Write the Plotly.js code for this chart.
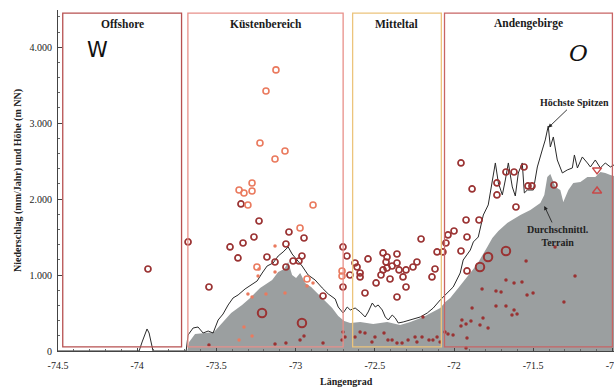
<!DOCTYPE html>
<html>
<head>
<meta charset="utf-8">
<script src="https://cdn.plot.ly/plotly-3.0.1.min.js"></script>
<style>html,body{margin:0;padding:0;background:#fff;}#chart{width:614px;height:388px;}</style>
</head>
<body>
<div id="chart"></div>
<script>
// ---- Data ----
const peakLon = [-74.5,-73.988,-73.969,-73.950,-73.938,-73.925,-73.913,-73.900,-73.691,-73.679,-73.647,-73.616,-73.584,-73.552,-73.521,-73.489,-73.458,-73.426,-73.395,-73.363,-73.319,-73.274,-73.243,-73.211,-73.180,-73.142,-73.110,-73.079,-73.047,-73.022,-72.990,-72.959,-72.921,-72.877,-72.832,-72.794,-72.750,-72.731,-72.700,-72.674,-72.655,-72.624,-72.592,-72.561,-72.542,-72.516,-72.497,-72.479,-72.453,-72.434,-72.415,-72.390,-72.371,-72.352,-72.321,-72.276,-72.213,-72.169,-72.131,-72.087,-72.043,-72.005,-71.961,-71.942,-71.897,-71.878,-71.847,-71.815,-71.784,-71.758,-71.739,-71.720,-71.695,-71.676,-71.657,-71.632,-71.613,-71.594,-71.569,-71.556,-71.537,-71.499,-71.474,-71.443,-71.424,-71.405,-71.392,-71.373,-71.348,-71.316,-71.285,-71.253,-71.240,-71.221,-71.190,-71.158,-71.139,-71.108,-71.076,-71.045,-71.013,-70.99];
const peakElev = [0,0,119,237,290,237,119,0,0,211,303,316,237,263,237,408,487,606,698,738,817,882,922,1027,1119,1159,1251,1304,1370,1277,1198,1119,1001,935,830,751,685,579,500,579,540,566,514,448,514,632,579,606,540,448,408,474,435,369,382,408,448,500,566,672,764,843,1027,1198,1330,1436,1501,1791,1923,2252,2476,2213,2055,2252,2476,2160,2041,2344,2476,2081,2120,2120,2423,2647,2779,2963,2687,2818,2515,2344,2384,2410,2581,2410,2555,2476,2423,2515,2410,2476,2423,2450];

const meanLon = [-74.5,-73.685,-73.672,-73.635,-73.571,-73.515,-73.464,-73.407,-73.338,-73.287,-73.224,-73.186,-73.148,-73.110,-73.072,-73.047,-73.022,-72.997,-72.971,-72.940,-72.902,-72.858,-72.813,-72.769,-72.731,-72.693,-72.655,-72.592,-72.510,-72.422,-72.340,-72.276,-72.194,-72.131,-72.087,-72.055,-72.024,-71.973,-71.916,-71.853,-71.790,-71.758,-71.720,-71.664,-71.581,-71.518,-71.455,-71.430,-71.411,-71.392,-71.360,-71.329,-71.310,-71.278,-71.247,-71.202,-71.158,-71.108,-71.076,-71.045,-71.013,-70.99];
const meanElev = [0,0,119,224,237,250,369,500,606,698,830,882,935,1040,1080,1172,1001,961,1027,896,843,751,659,566,461,395,369,382,356,382,342,382,448,514,566,645,698,830,975,1146,1370,1488,1580,1686,1791,1857,1949,2055,2292,2331,2160,2120,1962,2120,2213,2226,2292,2292,2357,2344,2318,2305];

// Station precipitation, dark red open circles
const darkLon = [-73.932,-73.679,-73.345,-73.231,-73.414,-73.332,-73.263,-73.042,-72.947,-73.061,-73.364,-73.181,-73.130,-73.061,-73.016,-72.979,-72.960,-73.547,-72.701,-72.676,-72.701,-72.827,-72.657,-72.625,-72.612,-72.593,-72.593,-72.543,-72.562,-72.492,-72.448,-72.423,-72.429,-72.448,-72.423,-72.391,-72.360,-72.360,-72.347,-72.303,-72.322,-72.404,-72.461,-72.360,-72.303,-72.259,-72.234,-72.208,-72.120,-72.139,-72.107,-72.070,-72.051,-72.038,-72.000,-71.956,-71.886,-71.672,-71.621,-71.558,-71.729,-71.729,-71.533,-71.508,-71.369,-71.609,-71.924,-71.842,-71.918,-71.956,-71.918];
const darkPrec = [1080,1436,1936,1712,1370,1422,1501,1567,1488,1409,1225,1238,1172,1106,1185,1185,1251,843,1370,1251,843,724,1001,1159,1106,1027,975,1212,764,896,1291,1238,1172,1067,1093,1119,1277,1159,1067,1067,975,948,1001,711,843,1106,1172,1475,1080,975,1304,1304,1422,1528,1580,2476,2134,2357,2357,2423,2213,2055,2173,2173,2186,1896,1725,1725,1501,1317,1054];
// larger dark red circles
const bigLon = [-73.212,-72.960,-71.785,-71.672,-71.836];
const bigPrec = [500,369,1238,1317,1106];
// salmon open circles
const salmonLon = [-73.124,-73.187,-73.225,-73.067,-73.130,-73.275,-73.357,-73.326,-73.275,-73.301,-72.890,-72.972,-73.244,-72.928,-72.707,-72.707];
const salmonPrec = [3701,3424,2739,2634,2529,2213,2120,2081,2107,1923,1923,1620,1106,948,1054,988];
// small salmon dots
const sDotLon = [-73.130,-73.231,-73.237,-73.130,-72.890,-72.928,-73.301,-73.275,-73.187,-73.067,-73.326,-73.275,-73.357];
const sDotPrec = [1383,1080,988,1040,896,856,751,711,751,764,316,198,145];
// small dark dots
const dDotLon = [-72.947,-72.972,-72.827,-72.707,-73.547,-73.130,-73.061,-72.701,-72.688,-72.625,-72.593,-72.562,-72.518,-72.499,-72.442,-72.417,-72.391,-72.360,-72.328,-72.290,-72.246,-72.234,-72.202,-72.196,-72.158,-72.133,-72.107,-72.088,-71.362,-71.545,-71.236,-71.672,-71.621,-71.571,-71.823,-71.735,-71.703,-71.539,-71.501,-71.306,-71.886,-71.735,-71.672,-71.621,-71.634,-71.602,-71.817,-71.950,-71.893,-71.924,-71.956,-71.836,-71.785,-72.057,-72.038,-72.006,-71.918,-71.924];
const dDotPrec = [198,145,105,145,79,92,105,250,184,184,250,237,119,184,237,145,145,105,105,145,184,119,184,448,145,145,184,119,1370,1185,988,935,896,909,817,790,777,738,764,645,566,593,593,540,474,487,435,408,395,356,329,342,303,250,224,211,171,40];
// triangles
const triDownLon = [-71.097], triDownPrec = [2384];
const triUpLon = [-71.097], triUpPrec = [2107];

// regions
const regionNames = ['Offshore','Küstenbereich','Mitteltal','Andengebirge'];
const regionStart = [-74.47,-73.68,-72.64,-72.06];
const regionEnd = [-73.72,-72.70,-72.08,-71.0];
const regionColors = ['#b75050','#e8908a','#ecc47c','#c86464'];

const xTicks = [-74.5,-74,-73.5,-73,-72.5,-72,-71.5,-71];
const xTickText = ['-74.5','-74','-73.5','-73','-72.5','-72','-71.5','-71'];
const yTicks = [0,1000,2000,3000,4000];
const yTickText = ['0','1.000','2.000','3.000','4.000'];

// ---- Chart ----
const serif = 'Liberation Serif, DejaVu Serif, serif';
const dark = '#9a3232';
const salmon = '#ea7a5e';

const traces = [
  {x: meanLon, y: meanElev, type:'scatter', mode:'lines', fill:'tozeroy', fillcolor:'#9b9fa0', line:{width:0, color:'#9b9fa0'}, hoverinfo:'skip'},
  {x: peakLon, y: peakElev, type:'scatter', mode:'lines', line:{width:1, color:'#2a2a2a'}},
  {x: dDotLon, y: dDotPrec, type:'scatter', mode:'markers', marker:{symbol:'circle', size:3.5, color:dark}},
  {x: sDotLon, y: sDotPrec, type:'scatter', mode:'markers', marker:{symbol:'circle', size:3.5, color:salmon}},
  {x: darkLon, y: darkPrec, type:'scatter', mode:'markers', marker:{symbol:'circle-open', size:6, color:dark, line:{width:1.7, color:dark}}},
  {x: bigLon, y: bigPrec, type:'scatter', mode:'markers', marker:{symbol:'circle-open', size:8.5, color:dark, line:{width:2, color:dark}}},
  {x: salmonLon, y: salmonPrec, type:'scatter', mode:'markers', marker:{symbol:'circle-open', size:6, color:salmon, line:{width:1.6, color:salmon}}},
  {x: triDownLon, y: triDownPrec, type:'scatter', mode:'markers', marker:{symbol:'triangle-down-open', size:8, color:'#c84848', line:{width:1.4, color:'#c84848'}}},
  {x: triUpLon, y: triUpPrec, type:'scatter', mode:'markers', marker:{symbol:'triangle-up-open', size:8, color:'#c84848', line:{width:1.4, color:'#c84848'}}}
];

const shapes = regionNames.map((n,i)=>({
  type:'rect', xref:'x', yref:'paper', x0:regionStart[i], x1:regionEnd[i], y0:0.012, y1:0.991,
  line:{color:regionColors[i], width:1.3}, fillcolor:'rgba(0,0,0,0)', layer:'above'
}));

const annotations = regionNames.map((n,i)=>({
  text:'<b>'+n+'</b>', xref:'x', yref:'paper', x:(regionStart[i]+regionEnd[i])/2, y:(351-24)/341, yanchor:'middle',
  showarrow:false, font:{family:serif, size:11.5, color:'#1a1a1a'}
}));
annotations.push(
  {text:'W', xref:'paper', yref:'paper', x:(85-58)/556, y:(351-50)/341, yanchor:'middle', showarrow:false, font:{family:'DejaVu Sans, sans-serif', size:21, color:'#111'}},
  {text:'<i>O</i>', xref:'paper', yref:'paper', x:(590-58)/556, y:(351-53)/341, yanchor:'middle', showarrow:false, font:{family:'DejaVu Serif, serif', size:23, color:'#111'}},
  {text:'<b>Höchste Spitzen</b>', xref:'x', yref:'y', x:-71.405, y:2940, ax:26, ay:-25, showarrow:true, arrowhead:2, arrowsize:0.9, arrowwidth:0.9, arrowcolor:'#222', font:{family:serif, size:10, color:'#222'}},
  {text:'<b>Durchschnittl.<br>Terrain</b>', xref:'x', yref:'y', x:-71.43, y:1910, ax:14, ay:30, showarrow:true, arrowhead:2, arrowsize:0.9, arrowwidth:0.9, arrowcolor:'#222', font:{family:serif, size:10, color:'#222'}},
  {text:'<b>Längengrad</b>', xref:'paper', yref:'paper', x:(346-58)/556, y:-0.088, yanchor:'middle', showarrow:false, font:{family:serif, size:10, color:'#222'}}
);

const layout = {
  width:614, height:388,
  margin:{l:58, r:0, t:10, b:37},
  paper_bgcolor:'#fff', plot_bgcolor:'#fff',
  showlegend:false,
  xaxis:{range:[-74.5,-70.99], tickvals:xTicks, ticktext:xTickText, showgrid:false, zeroline:false,
    showline:true, linecolor:'#444', linewidth:1, ticks:'inside', ticklen:3, tickcolor:'#444',
    ticklabeloverflow:'allow', ticklabelstandoff:5,
    minor:{dtick:0.1, ticks:'inside', ticklen:2, tickcolor:'#666'},
    tickfont:{family:serif, size:10, color:'#222'}},
  yaxis:{range:[0,4490], tickvals:yTicks, ticktext:yTickText, showgrid:false, zeroline:false,
    showline:true, linecolor:'#444', linewidth:1, ticks:'inside', ticklen:4, tickcolor:'#444',
    ticklabelstandoff:3,
    minor:{tickvals:[200,400,600,800,1200,1400,1600,1800,2200,2400,2600,2800,3200,3400,3600,3800,4200,4400], ticks:'inside', ticklen:2, tickcolor:'#666'},
    tickfont:{family:serif, size:10, color:'#222'},
    title:{text:'<b>Niederschlag (mm/Jahr) und Höhe (m NN)</b>', font:{family:serif, size:10, color:'#222'}, standoff:6}},
  shapes:shapes,
  annotations:annotations
};

Plotly.newPlot('chart', traces, layout, {displayModeBar:false, staticPlot:true});
</script>
</body>
</html>
